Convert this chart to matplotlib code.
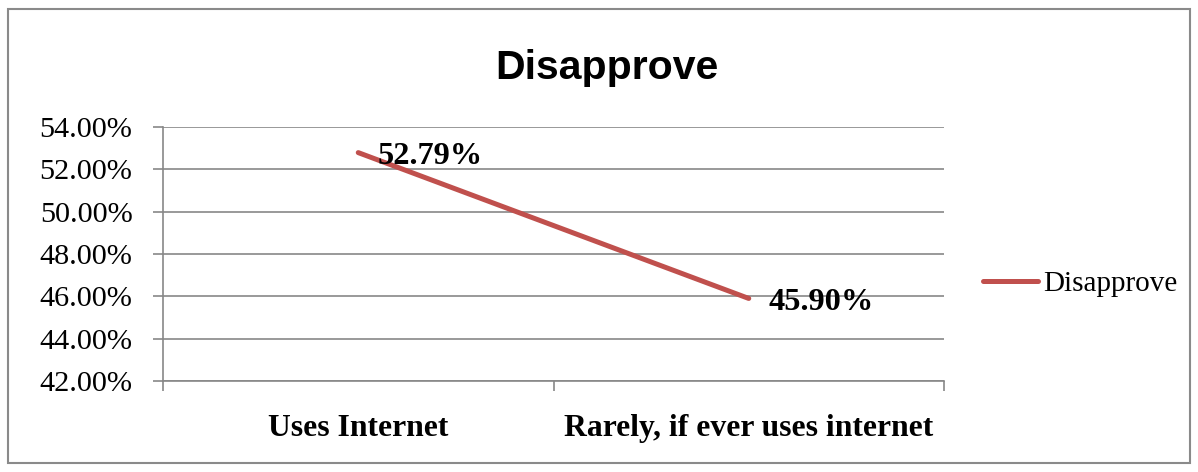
import matplotlib.pyplot as plt
import matplotlib.patches as patches

# Data
categories = ['Uses Internet', 'Rarely, if ever uses internet']
disapprove = [52.79, 45.90]
series_name = 'Disapprove'
y_ticks = [42, 44, 46, 48, 50, 52, 54]

serif = 'Liberation Serif'
line_color = '#C0504D'
grid_color = '#878787'

fig = plt.figure(figsize=(11.98, 4.72), dpi=100)
ax = fig.add_axes([163 / 1198, 1 - 381 / 472, (944 - 163) / 1198, (381 - 127) / 472])

x = list(range(len(categories)))
ax.plot(x, disapprove, color=line_color, lw=3.6, solid_capstyle='round', label=series_name, zorder=3)

# data labels
for xi, v in zip(x, disapprove):
    ax.annotate(f'{v:.2f}%', xy=(xi, v), xytext=(14, -3), textcoords='offset points',
                ha='left', va='center', fontsize=23.3, fontweight='bold', family=serif, zorder=4)

ax.set_xlim(-0.5, len(categories) - 0.5)
ax.set_ylim(y_ticks[0], y_ticks[-1])
ax.set_yticks(y_ticks)
ax.set_yticklabels([f'{t:.2f}%' for t in y_ticks], family=serif, fontsize=21.8)
ax.yaxis.grid(True, color=grid_color, lw=1.2)
ax.set_axisbelow(True)

ax.set_xticks(x)
ax.set_xticklabels(categories, family=serif, fontsize=22.8, fontweight='bold')
ax.set_xticks([i - 0.5 for i in range(len(categories) + 1)], minor=True)
ax.tick_params(axis='x', which='major', length=0, pad=24)
ax.tick_params(axis='x', which='minor', length=7, width=1.2, color=grid_color, direction='out')
ax.tick_params(axis='y', length=7, width=1.2, color=grid_color, pad=15)

for side in ['top', 'right']:
    ax.spines[side].set_visible(False)
for side in ['left', 'bottom']:
    ax.spines[side].set_color(grid_color)
    ax.spines[side].set_linewidth(1.2)

# title
fig.text(607 / 1198, 1 - 68 / 472, 'Disapprove', ha='center', va='center',
         fontsize=29.5, fontweight='bold', family='Liberation Sans')

# legend
fig.legend(loc='center left', bbox_to_anchor=(983 / 1198, 1 - 284 / 472), frameon=False,
           borderpad=0, borderaxespad=0, handlelength=1.9, handletextpad=0.15,
           prop={'family': serif, 'size': 21})

# outer chart border
fig.patches.append(patches.Rectangle((8 / 1198, 9 / 472), 1182 / 1198, 454 / 472,
                                     transform=fig.transFigure, fill=False,
                                     edgecolor='#8a8a8a', lw=1.5))

fig.savefig('out.png', dpi=100)
